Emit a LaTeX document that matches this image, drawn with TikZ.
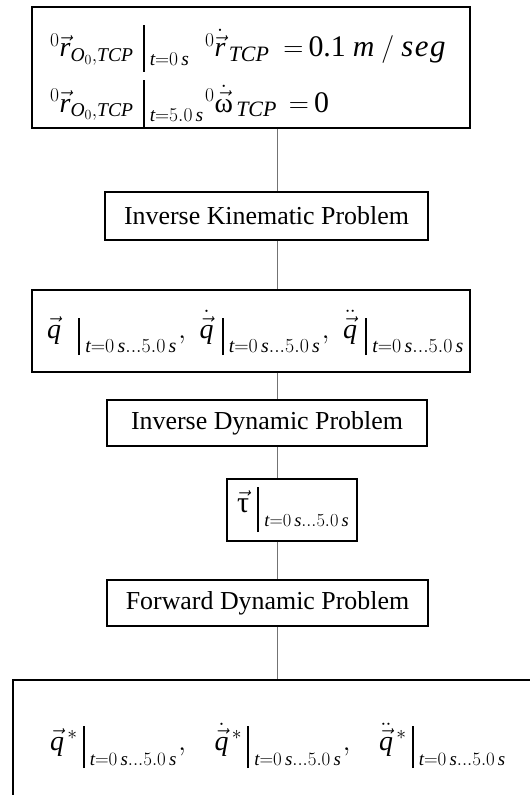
\documentclass[tikz,border=0pt]{standalone}
\usepackage{fix-cm}
\usepackage{amsmath}
\usepackage{fontspec}
\setmainfont{Liberation Serif}
\newcommand{\mi}[1]{\mathit{#1}}
% evaluation bar: [sub size]{height}{depth}{lowering}{subscript}
\newcommand{\evs}[5][19.6]{\mathord{\vrule width 2.2bp height #2bp depth #3bp}\hspace{5bp}\mathord{\lower#4bp\hbox{\fontsize{#1}{#1}\selectfont$#5$}}}
\newcommand{\trng}{\mi{t}{=}0\,\mi{s}...5.0\,\mi{s}}
\newcommand{\bigsub}[1]{\mbox{\fontsize{22}{24}\selectfont\itshape #1}}
\tikzset{
  boxn/.style={draw=black, line width=1.3bp, inner sep=0pt, fill=white},
  conn/.style={draw=black!55, line width=0.9bp},
  lbl/.style={font=\fontsize{26}{30}\selectfont},
  mth/.style={font=\fontsize{28}{32}\selectfont, inner sep=0pt, anchor=base west},
}
\begin{document}
\begin{tikzpicture}[x=1bp,y=-1bp]
\useasboundingbox (0,0) rectangle (530,795);
\fill[white] (0,0) rectangle (530,795);
\coordinate (cx) at (277,0);

% boxes
\node[boxn, minimum width=438bp, minimum height=121bp] (b1) at (251,67.5) {};
\node[boxn, lbl, minimum width=323bp, minimum height=48bp] (b2) at (266.5,216) {Inverse Kinematic Problem};
\node[boxn, minimum width=438bp, minimum height=82bp] (b3) at (251,331) {};
\node[boxn, lbl, minimum width=320bp, minimum height=46bp] (b4) at (267,423) {Inverse Dynamic Problem};
\node[boxn, minimum width=130bp, minimum height=62bp] (b5) at (292,510) {};
\node[boxn, lbl, minimum width=321bp, minimum height=46bp] (b6) at (267.5,603) {Forward Dynamic Problem};
\node[boxn, minimum width=532bp, minimum height=130bp] (b7) at (279,745) {};

% connectors
\draw[conn] (b1.south -| cx) -- (b2.north -| cx);
\draw[conn] (b2.south -| cx) -- (b3.north -| cx);
\draw[conn] (b3.south -| cx) -- (b4.north -| cx);
\draw[conn] (b4.south -| cx) -- (b5.north -| cx);
\draw[conn] (b5.south -| cx) -- (b6.north -| cx);
\draw[conn] (b6.south -| cx) -- (b7.north -| cx);

% box 1 contents
\node[mth] (r1a) at (50,57) {${}^{0}\vec{\mi{r}}_{\mi{O}_0,\mi{TCP}}\hspace{9bp}\evs{32}{15}{9}{\mi{t}{=}0\,\mi{s}}$};
\node[mth] (r1b) at (205,57) {${}^{0}\dot{\vec{\mi{r}}}_{\,\bigsub{TCP}}\hspace{14bp}{=}\hspace{5bp}\mbox{\fontsize{30}{32}\selectfont 0.1}\hspace{7bp}\mbox{\fontsize{30}{32}\selectfont\itshape m}\hspace{7bp}/\hspace{7bp}\mbox{\fontsize{31}{32}\selectfont\itshape s\kern1.5bp e\kern1.5bp g}$};
\node[mth] (r2a) at (50,112) {${}^{0}\vec{\mi{r}}_{\mi{O}_0,\mi{TCP}}\hspace{9bp}\evs{32}{15}{9}{\mi{t}{=}5.0\,\mi{s}}$};
\node[mth] (r2b) at (205,112) {${}^{0}\dot{\vec{\mbox{ω}}}_{\,\bigsub{TCP}}\hspace{12bp}{=}\hspace{5bp}\mbox{\fontsize{30}{32}\selectfont 0}$};

% box 3 contents
\node[mth] (q3) at (47,338) {$\vec{\mi{q}}\hspace{17bp}\evs[20]{20}{17}{14}{\trng}\hspace{2bp},\hspace{9bp}\dot{\vec{\mi{q}}}\hspace{8bp}\evs[20]{20}{17}{14}{\trng}\hspace{2bp},\hspace{9bp}\ddot{\vec{\mi{q}}}\hspace{8bp}\evs[20]{20}{17}{14}{\trng}$};

% box 5 contents
\node[mth] (tau) at (237,512) {$\vec{\mbox{\fontsize{30}{32}\selectfont τ}}\hspace{8bp}\evs[18.5]{25}{20}{14}{\trng}$};

% box 7 contents
\node[mth] (q7) at (50,750) {$\vec{\mi{q}}^{\,*}\hspace{5bp}\evs[19]{24}{18}{15}{\trng}\hspace{2bp},\hspace{24bp}\dot{\vec{\mi{q}}}^{\,*}\hspace{5bp}\evs[19]{24}{18}{15}{\trng}\hspace{2bp},\hspace{24bp}\ddot{\vec{\mi{q}}}^{\,*}\hspace{5bp}\evs[19]{24}{18}{15}{\trng}$};
\end{tikzpicture}
\end{document}
